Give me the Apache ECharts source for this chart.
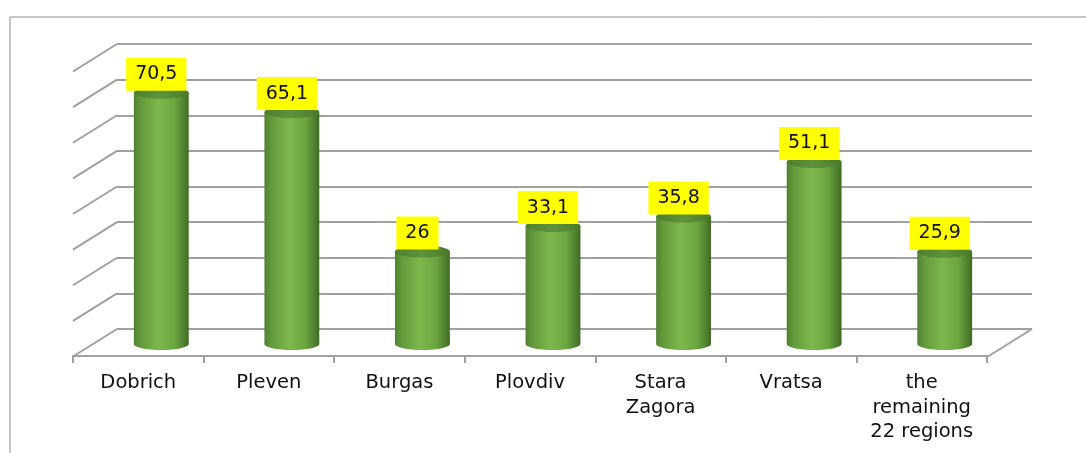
<!DOCTYPE html>
<html>
<head>
<meta charset="utf-8">
<script src="https://cdn.jsdelivr.net/npm/echarts@6/dist/echarts.min.js"></script>
<style>html,body{margin:0;padding:0;background:#fff;}#c{width:1086px;height:453px;}</style>
</head>
<body>
<div id="c"></div>
<script>
var categories = ['Dobrich', 'Pleven', 'Burgas', 'Plovdiv', 'Stara\nZagora', 'Vratsa', 'the\nremaining\n22 regions'];
var values = [70.5, 65.1, 26, 33.1, 35.8, 51.1, 25.9];
var yTicks = [0, 10, 20, 30, 40, 50, 60, 70, 80];

var DEPTH_DX = 44, DEPTH_DY = 27.5;
var gridColor = '#a0a0a0';
var font = 'DejaVu Sans';

var chart = echarts.init(document.getElementById('c'));

function fmt(v) { return String(v).replace('.', ','); }

var bodyGrad = {
  type: 'linear', x: 0, y: 0, x2: 1, y2: 0,
  colorStops: [
    {offset: 0, color: '#4f8230'},
    {offset: 0.12, color: '#63993b'},
    {offset: 0.45, color: '#7cb84c'},
    {offset: 0.75, color: '#6aa540'},
    {offset: 0.92, color: '#4f7f2e'},
    {offset: 1, color: '#3f6a24'}
  ]
};
var topGrad = {
  type: 'linear', x: 0, y: 0, x2: 1, y2: 0,
  colorStops: [
    {offset: 0, color: '#4e7f2f'},
    {offset: 0.5, color: '#5e923a'},
    {offset: 1, color: '#4a7a2b'}
  ]
};

var option = {
  animation: false,
  graphic: [{
    type: 'rect', shape: {x: 10, y: 17, width: 1100, height: 500},
    style: {fill: 'none', stroke: '#8c8c8c', lineWidth: 1}, silent: true, z: -10
  }],
  grid: [
    {left: 117, right: 54, top: 44, bottom: 124},
    {left: 96, right: 76, top: 59, bottom: 109},
    {left: 73, right: 99, top: 355, bottom: 97}
  ],
  xAxis: [
    {gridIndex: 0, type: 'value', min: 0, max: 7, show: false},
    {gridIndex: 1, type: 'category', data: categories, show: false},
    {gridIndex: 2, type: 'category', data: categories,
      axisLine: {show: true, lineStyle: {color: gridColor, width: 2}},
      axisTick: {show: true, length: 7, interval: 0, lineStyle: {color: gridColor, width: 2}},
      axisLabel: {interval: 0, margin: 15, fontFamily: font, fontSize: 19.5, lineHeight: 24.5, color: '#111'}
    }
  ],
  yAxis: [
    {gridIndex: 0, type: 'value', min: 0, max: 80, interval: 10,
      axisLine: {show: false}, axisTick: {show: false}, axisLabel: {show: false},
      splitLine: {show: true, lineStyle: {color: gridColor, width: 2}}},
    {gridIndex: 1, type: 'value', min: 0, max: 80, interval: 10, show: false, splitLine: {show: false}},
    {gridIndex: 2, type: 'value', show: false, splitLine: {show: false}}
  ],
  series: [
    {
      type: 'custom', xAxisIndex: 0, yAxisIndex: 0, silent: true, z: 1,
      data: yTicks.map(function (t) { return [0, t]; }),
      renderItem: function (params, api) {
        var p = api.coord([api.value(0), api.value(1)]);
        return {type: 'line', shape: {x1: p[0], y1: p[1], x2: p[0] - DEPTH_DX, y2: p[1] + DEPTH_DY},
          style: {stroke: gridColor, lineWidth: 2}};
      }
    },
    {
      type: 'custom', xAxisIndex: 0, yAxisIndex: 0, silent: true, z: 1,
      data: [[7, 0]],
      renderItem: function (params, api) {
        var p = api.coord([api.value(0), api.value(1)]);
        return {type: 'line', shape: {x1: p[0], y1: p[1], x2: p[0] - DEPTH_DX, y2: p[1] + DEPTH_DY},
          style: {stroke: gridColor, lineWidth: 2}};
      }
    },
    {
      type: 'custom', xAxisIndex: 1, yAxisIndex: 1, silent: true, z: 5,
      data: values.map(function (v, i) { return [i, v]; }),
      renderItem: function (params, api) {
        var idx = api.value(0), v = api.value(1);
        var top = api.coord([idx, v]);
        var base = api.coord([idx, 0]);
        var w = api.size([1, 0])[0] * 0.42;
        var rx = w / 2, ry = 6;
        return {
          type: 'group',
          children: [
            {type: 'ellipse', shape: {cx: base[0], cy: base[1], rx: rx, ry: ry}, style: {fill: bodyGrad}},
            {type: 'rect', shape: {x: top[0] - rx, y: top[1], width: w, height: base[1] - top[1]}, style: {fill: bodyGrad}},
            {type: 'ellipse', shape: {cx: top[0], cy: top[1], rx: rx, ry: ry}, style: {fill: topGrad}},
            {type: 'text', z2: 10, x: top[0] - 5, y: top[1] - 2,
              style: {text: fmt(v), fill: '#111', font: '19px "' + font + '"',
                align: 'center', verticalAlign: 'bottom',
                backgroundColor: '#ffff00', padding: [6, 9, 6, 9], lineHeight: 21}}
          ]
        };
      }
    }
  ]
};
chart.setOption(option);
</script>
</body>
</html>
